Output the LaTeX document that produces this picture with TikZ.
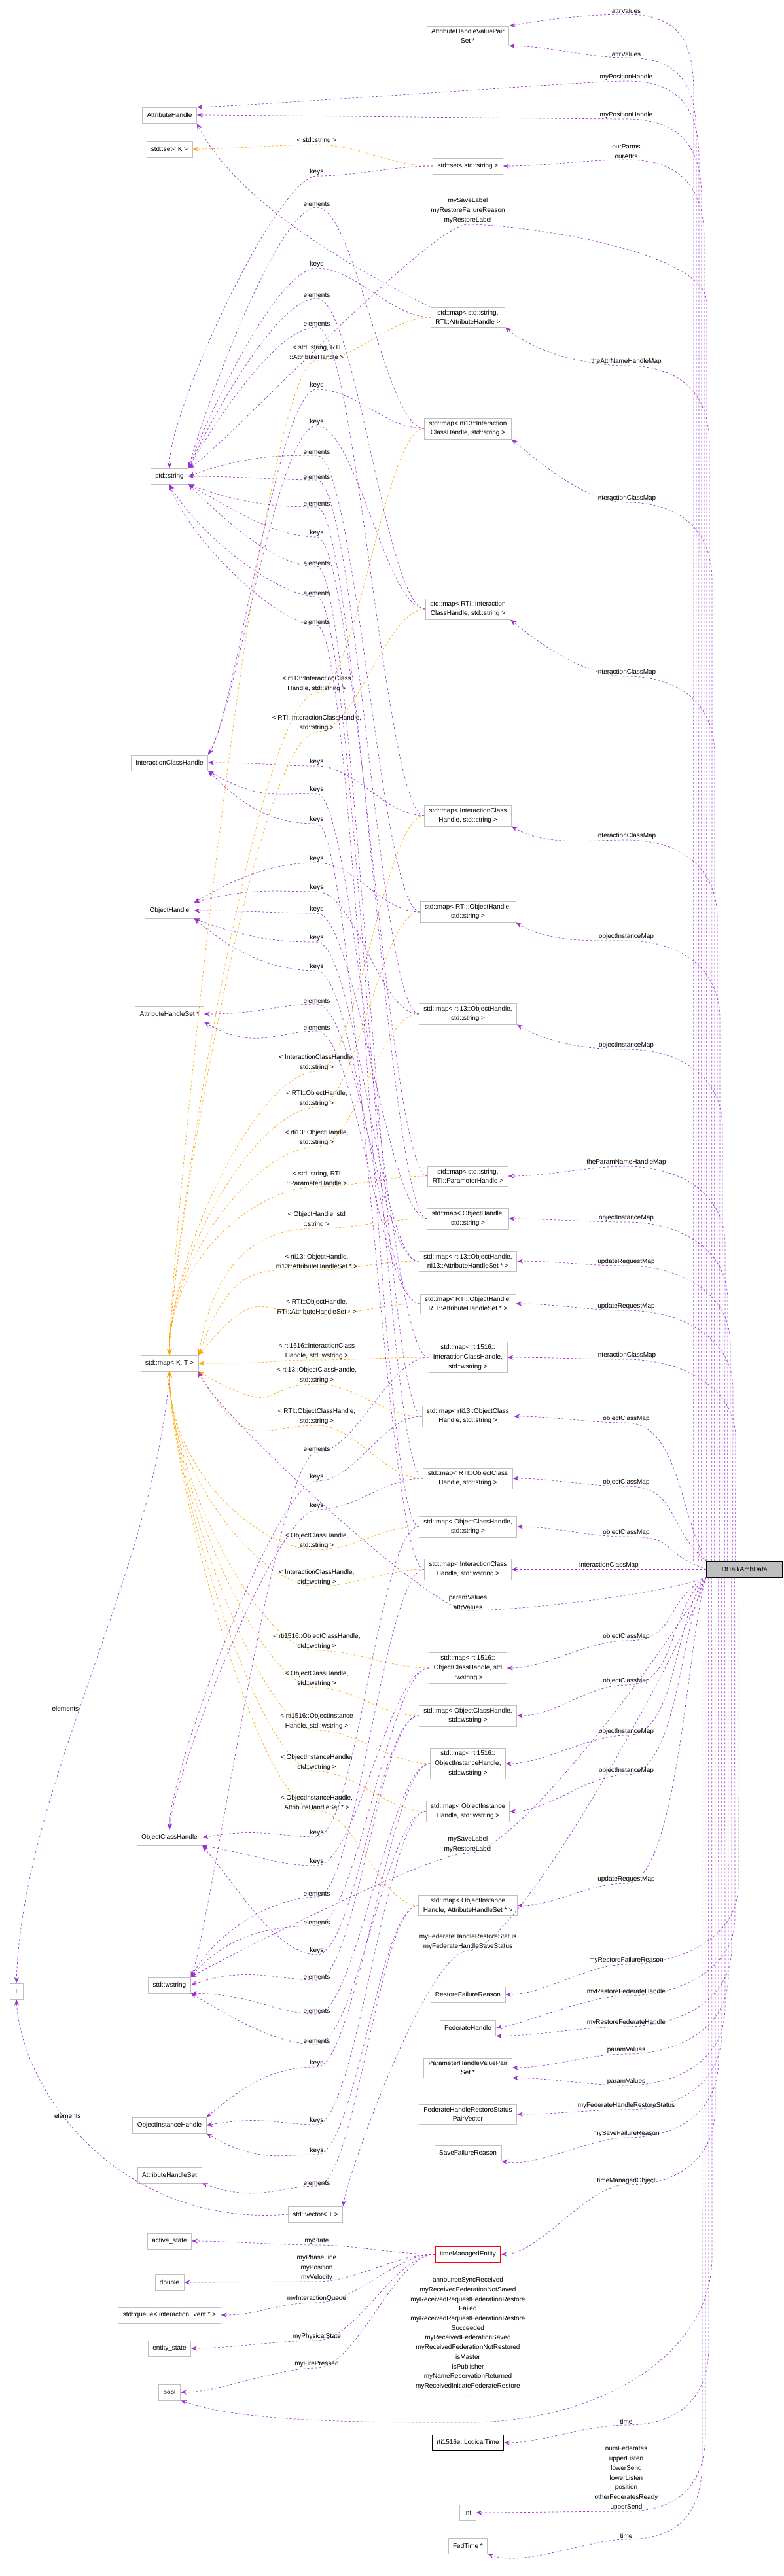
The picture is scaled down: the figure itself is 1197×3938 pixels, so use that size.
\documentclass[tikz,border=0pt]{standalone}
\usepackage{fontspec}
\setmainfont{Liberation Sans}
\usetikzlibrary{arrows.meta}
\definecolor{pur}{HTML}{9A32CD}
\definecolor{org}{HTML}{FFA500}
\definecolor{bx}{HTML}{BFBFBF}
\newcommand\fsz{\fontsize{10}{14.7}\selectfont}
\tikzset{
 box/.style={draw=bx,fill=white,font=\fsz,inner xsep=7pt,inner ysep=4pt,minimum height=24pt,align=center,line width=0.8pt},
 pe/.style={draw=pur,dashed,line width=0.7pt,-{Stealth[length=9pt,width=7pt]}},
 oe/.style={draw=org,dashed,line width=0.7pt,-{Stealth[length=9pt,width=7pt]}},
 lbl/.style={font=\fsz,anchor=south,inner sep=1.5pt,align=center,text=black}
}
\newcommand\kedge[5]{\draw[pe] (#1.west) .. controls +(-60pt,0pt) and +(60pt,0pt) .. (484,#3) node[lbl]{#4} .. controls +(-60pt,0pt) and +(#5:90pt) .. (#2);}
\newcommand\tedge[5]{\draw[oe] (#1.west) .. controls +(-60pt,0pt) and +(60pt,0pt) .. (484,#2) node[lbl]{#3} .. controls +(-90pt,0pt) and +(#5:150pt) .. (#4);}
\newcommand\eedge[3]{\draw[pe] (E.west) .. controls +(-60pt,0pt) and +(60pt,0pt) .. (484,#2) node[lbl]{#3} .. controls +(-60pt,0pt) and +(60pt,0pt) .. (#1.east);}
\newcommand\dup[6]{\draw[pe] ([xshift={#1-1138}]D.north) -- (#1,{#3+120}) .. controls +(0pt,80pt) and +(80pt,0pt) .. (#2,#3) node[lbl]{#4} .. controls +(-60pt,0pt) and +(#6:60pt) .. (#5);}
\newcommand\ddown[6]{\draw[pe] ([xshift={#1-1138}]D.south) -- (#1,{#3-120}) .. controls +(0pt,-80pt) and +(80pt,0pt) .. (#2,#3) node[lbl]{#4} .. controls +(-60pt,0pt) and +(#6:60pt) .. (#5);}
\newcommand\dnear[7]{\draw[pe] (D.#1) .. controls +(#2:80pt) and +(80pt,0pt) .. (#3,#4) node[lbl]{#5} .. controls +(-60pt,0pt) and +(#7:60pt) .. (#6);}
\begin{document}
\begin{tikzpicture}[x=1pt,y=-1pt]
\useasboundingbox[fill=white] (0,0) rectangle (1197,3938);
% nodes
\node[box] (AHVPS) at (715,55) {AttributeHandleValuePair\\Set *};
\node[box] (AH) at (259,176) {AttributeHandle};
\node[box] (SETK) at (259,228) {std::set< K >};
\node[box] (SETS) at (715,254) {std::set< std::string >};
\node[box] (MSAH) at (715,485) {std::map< std::string,\\RTI::AttributeHandle >};
\node[box] (M13ICH) at (715,655) {std::map< rti13::Interaction\\ClassHandle, std::string >};
\node[box] (STR) at (259,728) {std::string};
\node[box] (MRICH) at (715,931) {std::map< RTI::Interaction\\ClassHandle, std::string >};
\node[box] (ICH) at (259,1166) {InteractionClassHandle};
\node[box] (MICH) at (715,1247) {std::map< InteractionClass\\Handle, std::string >};
\node[box] (OH) at (259,1392) {ObjectHandle};
\node[box] (MROH) at (715,1394) {std::map< RTI::ObjectHandle,\\std::string >};
\node[box] (M13OH) at (715,1550) {std::map< rti13::ObjectHandle,\\std::string >};
\node[box] (AHSP) at (259,1550) {AttributeHandleSet *};
\node[box] (MSPH) at (715,1798) {std::map< std::string,\\RTI::ParameterHandle >};
\node[box] (MOH) at (715,1863) {std::map< ObjectHandle,\\std::string >};
\node[box] (M13OHA) at (715,1928) {std::map< rti13::ObjectHandle,\\rti13::AttributeHandleSet * >};
\node[box] (MROHA) at (715,1993) {std::map< RTI::ObjectHandle,\\RTI::AttributeHandleSet * >};
\node[box] (MKT) at (259,2084) {std::map< K, T >};
\node[box] (M16ICH) at (715,2075) {std::map< rti1516::\\InteractionClassHandle,\\std::wstring >};
\node[box] (M13OCH) at (715,2165) {std::map< rti13::ObjectClass\\Handle, std::string >};
\node[box] (MROCH) at (715,2260) {std::map< RTI::ObjectClass\\Handle, std::string >};
\node[box] (MOCH) at (715,2334) {std::map< ObjectClassHandle,\\std::string >};
\node[box] (MICHW) at (715,2399) {std::map< InteractionClass\\Handle, std::wstring >};
\node[box,fill=bx,draw=black,anchor=east,minimum width=116pt] (D) at (1196,2399) {DtTalkAmbData};
\node[box] (M16OCH) at (715,2550) {std::map< rti1516::\\ObjectClassHandle, std\\::wstring >};
\node[box] (MOCHW) at (715,2623) {std::map< ObjectClassHandle,\\std::wstring >};
\node[box] (M16OIH) at (715,2696) {std::map< rti1516::\\ObjectInstanceHandle,\\std::wstring >};
\node[box] (MOIHW) at (715,2769) {std::map< ObjectInstance\\Handle, std::wstring >};
\node[box] (OCH) at (259,2809) {ObjectClassHandle};
\node[box] (MOIHA) at (715,2913) {std::map< ObjectInstance\\Handle, AttributeHandleSet * >};
\node[box] (T) at (25,3044) {T};
\node[box] (WSTR) at (259,3035) {std::wstring};
\node[box] (RFR) at (715,3049) {RestoreFailureReason};
\node[box] (FH) at (715,3100) {FederateHandle};
\node[box] (PHVPS) at (715,3161) {ParameterHandleValuePair\\Set *};
\node[box] (FHRS) at (715,3232) {FederateHandleRestoreStatus\\PairVector};
\node[box] (SFR) at (715,3291) {SaveFailureReason};
\node[box] (OIH) at (259,3249) {ObjectInstanceHandle};
\node[box] (AHS) at (259,3325) {AttributeHandleSet};
\node[box] (VEC) at (482,3385) {std::vector< T >};
\node[box] (ACT) at (259,3426) {active\_state};
\node[box,draw=red] (E) at (715,3446) {timeManagedEntity};
\node[box] (DBL) at (259,3489) {double};
\node[box] (Q) at (259,3539) {std::queue< interactionEvent * >};
\node[box] (ES) at (259,3590) {entity\_state};
\node[box] (BOOL) at (259,3657) {bool};
\node[box,draw=black] (LT) at (715,3734) {rti1516e::LogicalTime};
\node[box] (INT) at (715,3841) {int};
\node[box] (FT) at (715,3892) {FedTime *};
% template edges
\draw[oe] (SETS.west) .. controls +(-60pt,0pt) and +(60pt,0pt) .. (484,221) node[lbl]{< std::string >} .. controls +(-60pt,0pt) and +(60pt,0pt) .. (SETK.east);
\tedge{MSAH}{551}{< std::string, RTI\\::AttributeHandle >}{MKT.north}{90}
\tedge{M13ICH}{1059}{< rti13::InteractionClass\\Handle, std::string >}{MKT.north}{90}
\tedge{MRICH}{1119}{< RTI::InteractionClassHandle,\\std::string >}{MKT.north}{90}
\tedge{MICH}{1638}{< InteractionClassHandle,\\std::string >}{MKT.north}{90}
\tedge{MROH}{1693}{< RTI::ObjectHandle,\\std::string >}{MKT.north}{90}
\tedge{M13OH}{1753}{< rti13::ObjectHandle,\\std::string >}{MKT.north}{90}
\tedge{MSPH}{1814}{< std::string, RTI\\::ParameterHandle >}{MKT.north}{90}
\tedge{MOH}{1878}{< ObjectHandle, std\\::string >}{MKT.north east}{80}
\tedge{M13OHA}{1941}{< rti13::ObjectHandle,\\rti13::AttributeHandleSet * >}{MKT.north east}{70}
\tedge{MROHA}{2010}{< RTI::ObjectHandle,\\RTI::AttributeHandleSet * >}{MKT.north east}{50}
\tedge{M16ICH}{2079}{< rti1516::InteractionClass\\Handle, std::wstring >}{MKT.east}{0}
\tedge{M13OCH}{2116}{< rti13::ObjectClassHandle,\\std::string >}{MKT.south east}{-30}
\tedge{MROCH}{2179}{< RTI::ObjectClassHandle,\\std::string >}{MKT.south east}{-60}
\tedge{MOCH}{2369}{< ObjectClassHandle,\\std::string >}{MKT.south}{-90}
\tedge{MICHW}{2425}{< InteractionClassHandle,\\std::wstring >}{MKT.south}{-90}
\tedge{M16OCH}{2523}{< rti1516::ObjectClassHandle,\\std::wstring >}{MKT.south}{-90}
\tedge{MOCHW}{2580}{< ObjectClassHandle,\\std::wstring >}{MKT.south}{-90}
\tedge{M16OIH}{2645}{< rti1516::ObjectInstance\\Handle, std::wstring >}{MKT.south}{-90}
\tedge{MOIHW}{2708}{< ObjectInstanceHandle,\\std::wstring >}{MKT.south}{-90}
\tedge{MOIHA}{2768}{< ObjectInstanceHandle,\\AttributeHandleSet * >}{MKT.south}{-90}
% keys / elements
\kedge{SETS}{STR.north}{269}{keys}{90}
\kedge{M13ICH}{STR.north east}{317}{elements}{75}
\kedge{MSAH}{STR.north east}{410}{keys}{70}
\kedge{MRICH}{STR.north east}{456}{elements}{65}
\kedge{MICH}{STR.north east}{500}{elements}{60}
\kedge{MROH}{STR.east}{696}{elements}{20}
\kedge{M13OH}{STR.east}{734}{elements}{0}
\kedge{MOH}{STR.south east}{775}{elements}{-20}
\kedge{MSPH}{STR.south east}{821}{keys}{-30}
\kedge{M13OCH}{STR.south east}{866}{elements}{-45}
\kedge{MROCH}{STR.south}{912}{elements}{-60}
\kedge{MOCH}{STR.south}{956}{elements}{-70}
\draw[pe] (MSAH.north west) .. controls +(-120pt,60pt) and +(60pt,-120pt) .. (AH.south east);
\kedge{M13ICH}{ICH.north east}{595}{keys}{60}
\kedge{MRICH}{ICH.north east}{651}{keys}{60}
\kedge{MICH}{ICH.east}{1171}{keys}{0}
\kedge{M16ICH}{ICH.south east}{1213}{keys}{-30}
\kedge{MICHW}{ICH.south east}{1259}{keys}{-45}
\kedge{MROH}{OH.north east}{1319}{keys}{30}
\kedge{M13OH}{OH.north east}{1363}{keys}{15}
\kedge{MOH}{OH.east}{1396}{keys}{0}
\kedge{M13OHA}{OH.south east}{1440}{keys}{-20}
\kedge{MROHA}{OH.south east}{1484}{keys}{-40}
\kedge{M13OHA}{AHSP.east}{1535}{elements}{0}
\kedge{MROHA}{AHSP.south east}{1576}{elements}{-30}
\kedge{M16ICH}{WSTR.north east}{2220}{elements}{70}
\kedge{MICHW}{WSTR.north east}{2900}{elements}{60}
\kedge{M16OCH}{WSTR.north east}{2944}{elements}{50}
\kedge{MOCHW}{WSTR.east}{3027}{elements}{20}
\kedge{M16OIH}{WSTR.south east}{3079}{elements}{0}
\kedge{MOIHW}{WSTR.south east}{3125}{elements}{-30}
\kedge{M13OCH}{OCH.north}{2264}{keys}{90}
\kedge{MROCH}{OCH.north}{2308}{keys}{85}
\kedge{MOCH}{OCH.east}{2808}{keys}{10}
\kedge{M16OCH}{OCH.south east}{2852}{keys}{-10}
\kedge{MOCHW}{OCH.south east}{2988}{keys}{-50}
\kedge{M16OIH}{OIH.north east}{3160}{keys}{40}
\kedge{MOIHW}{OIH.east}{3248}{keys}{10}
\kedge{MOIHA}{OIH.south east}{3294}{keys}{-30}
\kedge{MOIHA}{AHS.south east}{3342}{elements}{-20}
\draw[pe] (MKT.south) .. controls +(-20pt,-300pt) and +(10pt,300pt) .. node[pos=0.55,left=-2pt,font=\fsz,text=black]{elements} (T.north);
\draw[pe] (VEC.west) .. controls +(-250pt,-20pt) and +(10pt,-150pt) .. node[pos=0.6,above,font=\fsz,text=black]{elements} (T.south);
% timeManagedEntity edges
\eedge{ACT}{3432}{myState}
\eedge{DBL}{3488}{myPhaseLine\\myPosition\\myVelocity}
\eedge{Q}{3520}{myInteractionQueue}
\eedge{ES}{3578}{myPhysicalState}
\eedge{BOOL}{3620}{myFirePressed}
% DtTalkAmbData edges up
\dup{1060}{957}{22}{attrValues}{AHVPS.north east}{10}
\dup{1064}{957}{88}{attrValues}{AHVPS.south east}{0}
\dup{1068}{957}{124}{myPositionHandle}{AH.north east}{0}
\dup{1072}{957}{182}{myPositionHandle}{AH.east}{0}
\dup{1076}{957}{244}{ourParms\\ourAttrs}{SETS.east}{0}
\dup{1080}{715}{343}{mySaveLabel\\myRestoreFailureReason\\myRestoreLabel}{STR.north east}{30}
\dup{1084}{957}{559}{theAttrNameHandleMap}{MSAH.south east}{-40}
\dup{1088}{957}{768}{interactionClassMap}{M13ICH.south east}{-40}
\dup{1092}{957}{1034}{interactionClassMap}{MRICH.south east}{-40}
\dup{1096}{957}{1284}{interactionClassMap}{MICH.south east}{-30}
\dup{1100}{957}{1438}{objectInstanceMap}{MROH.south east}{-30}
\dup{1104}{957}{1604}{objectInstanceMap}{M13OH.south east}{-30}
\dup{1108}{957}{1783}{theParamNameHandleMap}{MSPH.east}{0}
\dup{1112}{957}{1868}{objectInstanceMap}{MOH.east}{0}
\dup{1116}{957}{1935}{updateRequestMap}{M13OHA.east}{0}
\dup{1120}{957}{2003}{updateRequestMap}{MROHA.east}{0}
\dup{1124}{957}{2078}{interactionClassMap}{M16ICH.east}{0}
\dnear{north west}{120}{957}{2175}{objectClassMap}{M13OCH.east}{0}
\dnear{north west}{140}{957}{2272}{objectClassMap}{MROCH.east}{0}
\dnear{west}{160}{957}{2349}{objectClassMap}{MOCH.east}{0}
\draw[pe] (D.west) -- node[lbl,pos=0.5]{interactionClassMap} (MICHW.east);
% near down
\dnear{south west}{-160}{715}{2462}{paramValues\\attrValues}{MKT.south east}{-70}
\dnear{south west}{-150}{957}{2508}{objectClassMap}{M16OCH.east}{0}
\dnear{south west}{-140}{957}{2576}{objectClassMap}{MOCHW.east}{0}
\dnear{south west}{-130}{957}{2653}{objectInstanceMap}{M16OIH.east}{0}
\dnear{south west}{-120}{957}{2713}{objectInstanceMap}{MOIHW.east}{0}
\dnear{south west}{-115}{715}{2833}{mySaveLabel\\myRestoreLabel}{WSTR.north east}{30}
\dnear{south west}{-110}{957}{2879}{updateRequestMap}{MOIHA.east}{0}
\dnear{south west}{-105}{715}{2982}{myFederateHandleRestoreStatus\\myFederateHandleSaveStatus}{VEC.north east}{80}
% far down
\ddown{1128}{957}{3003}{myRestoreFailureReason}{RFR.east}{0}
\ddown{1123}{957}{3051}{myRestoreFederateHandle}{FH.east}{10}
\ddown{1118}{957}{3098}{myRestoreFederateHandle}{FH.south east}{0}
\ddown{1113}{957}{3140}{paramValues}{PHVPS.east}{0}
\ddown{1108}{957}{3188}{paramValues}{PHVPS.south east}{0}
\ddown{1103}{957}{3225}{myFederateHandleRestoreStatus}{FHRS.east}{0}
\ddown{1098}{957}{3268}{mySaveFailureReason}{SFR.south east}{-10}
\ddown{1093}{957}{3340}{timeManagedObject}{E.east}{0}
\draw[pe] ([xshift=-50pt]D.south) -- (1088,3450) .. controls +(0pt,-150pt) and +(200pt,0pt) .. (715,3703)
  node[lbl,yshift=36pt]{announceSyncReceived\\myReceivedFederationNotSaved\\myReceivedRequestFederationRestore\\Failed\\myReceivedRequestFederationRestore\\Succeeded\\myReceivedFederationSaved\\myReceivedFederationNotRestored\\isMaster\\isPublisher\\myNameReservationReturned\\myReceivedInitiateFederateRestore\\...}
  .. controls +(-150pt,0pt) and +(-20:100pt) .. (BOOL.south east);
\ddown{1083}{957}{3707}{time}{LT.east}{0}
\ddown{1078}{957}{3839}{numFederates\\upperListen\\lowerSend\\lowerListen\\position\\otherFederatesReady\\upperSend}{INT.east}{0}
\ddown{1073}{957}{3882}{time}{FT.south east}{-20}
\end{tikzpicture}
\end{document}
